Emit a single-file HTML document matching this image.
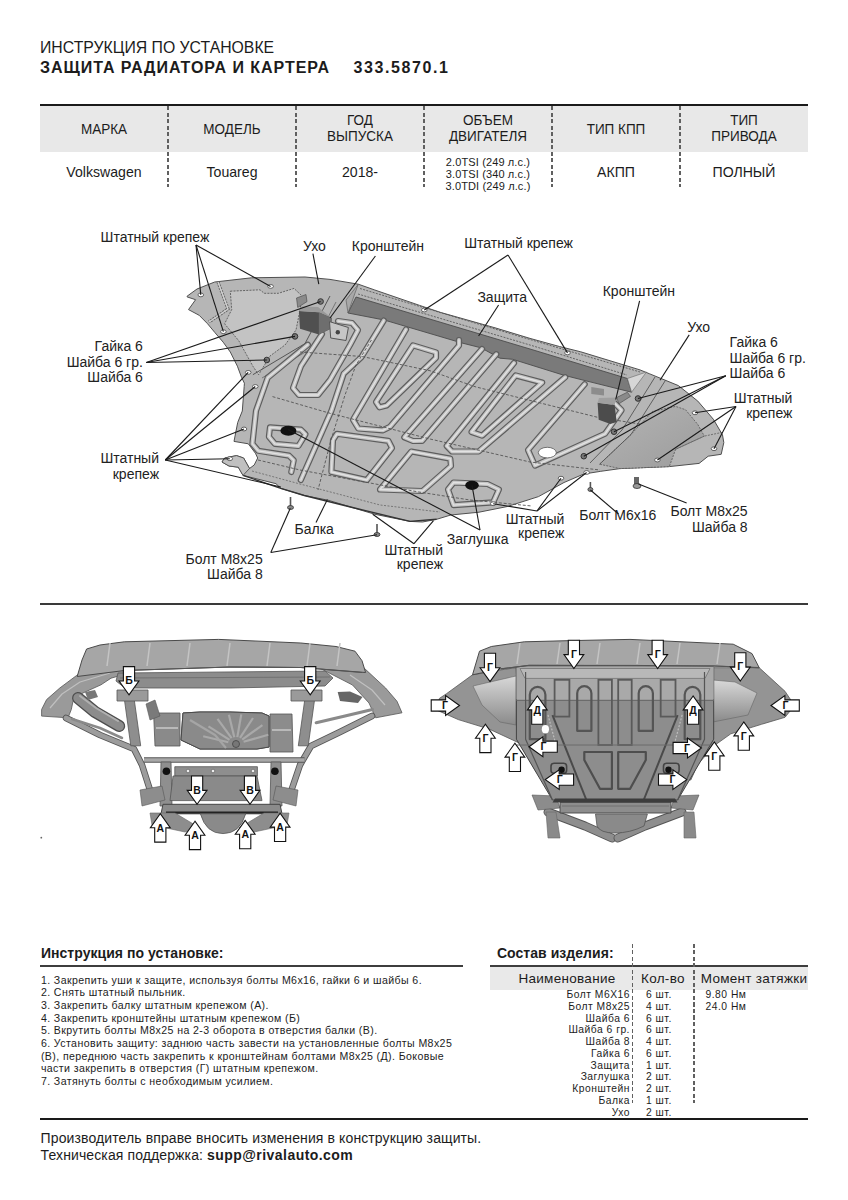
<!DOCTYPE html>
<html><head><meta charset="utf-8"><style>
html,body{margin:0;padding:0;background:#fff;}
body{width:848px;height:1200px;position:relative;overflow:hidden;font-family:"Liberation Sans",sans-serif;}
.t{position:absolute;white-space:nowrap;line-height:1;color:#1c1c1c;}
.r{position:absolute;}
.dv{position:absolute;width:1.8px;background:repeating-linear-gradient(to bottom,#606060 0,#606060 4px,transparent 4px,transparent 6.5px);}
svg{position:absolute;left:0;top:0;}
</style></head><body>
<svg width="848" height="1200" viewBox="0 0 848 1200"><polygon points="187.1,296.2 197.0,289.0 214.7,282.0 251.5,277.8 305.0,277.0 330.0,279.4 358.3,284.2 374.8,290.0 419.6,305.4 440.8,312.5 495.0,327.8 530.0,338.4 559.4,346.5 580.7,351.8 640.0,369.9 649.8,373.9 678.4,385.6 697.8,401.1 713.4,419.3 722.5,434.9 723.8,442.6 721.2,454.3 708.2,456.2 699.1,463.4 669.3,466.6 620.0,468.6 600.8,471.3 583.8,474.0 564.0,482.5 538.5,496.6 507.4,506.5 479.0,512.2 450.8,515.0 436.6,519.3 422.5,522.0 410.0,521.4 375.0,514.3 351.5,507.3 328.0,500.2 304.3,495.5 280.8,488.4 276.0,483.7 243.0,475.4 238.3,467.2 229.0,466.0 222.0,462.0 224.7,458.0 236.5,455.6 243.6,458.0 249.5,468.5 254.2,465.0 257.7,458.0 255.4,453.2 248.3,443.8 234.0,441.4 237.7,422.5 242.3,411.0 244.2,386.4 244.4,383.2 241.6,377.5 237.4,366.2 230.3,352.0 223.2,342.2 214.7,332.3 207.6,323.8 199.2,315.3 188.5,309.6 195.6,299.7 187.1,296.9" fill="#b6b6b6" stroke="#505050" stroke-width="1"/><polygon points="230.3,291.2 260.0,289.8 264.2,293.3 278.4,293.3 294.0,288.4 302.0,296.0 300.0,310.0 296.0,330.0 285.0,345.0 270.0,356.0 258.6,374.7 252.9,366.2 238.8,340.8 224.6,323.8 231.7,309.6" fill="#c3c3c3" stroke="#5a5a5a" stroke-width="0.9" stroke-dasharray="2,1.2"/><polyline points="218,282 228,309 209,322" fill="none" stroke="#666" stroke-width="3.2" stroke-dasharray="2,1"/><polyline points="218,282 228,309 209,322" fill="none" stroke="#d0d0d0" stroke-width="1.4"/><polyline points="330,296 305,343.6 252.9,374.7" fill="none" stroke="#555" stroke-width="1"/><polyline points="336,302 312,348 262,378" fill="none" stroke="#666" stroke-width="0.8"/><defs><linearGradient id="rg" x1="0" y1="0" x2="1" y2="1"><stop offset="0" stop-color="#b4b4b4"/><stop offset="1" stop-color="#9c9c9c"/></linearGradient></defs><polygon points="599.6,464.2 631.0,434.5 652.5,411.4 675.6,406.4 685.5,409.7 697.8,424.5 704.3,436.1 675.6,449.3 669.3,466.6 620.0,468.6" fill="url(#rg)" stroke="#606060" stroke-width="0.9" stroke-dasharray="2,1.2"/><polyline points="665.7,380 631,434.5 599.6,464.2" fill="none" stroke="#555" stroke-width="0.9"/><polyline points="655,377 622,430 590,463" fill="none" stroke="#555" stroke-width="0.9"/><polyline points="675.6,449.3 704.3,436.1 722.5,432.3" fill="none" stroke="#666" stroke-width="0.9" stroke-dasharray="2,1.2"/><polygon points="348.0,313.0 356.0,297.0 530.0,349.0 627.4,378.5 631.6,392.2 589.0,381.6 563.7,375.2 512.7,359.3 500.0,358.2 481.0,347.8 462.0,343.0 384.2,320.0" fill="#7a7a7a" stroke="#4c4c4c" stroke-width="0.9"/><polygon points="627.4,378.5 646.5,372 631.6,392.2" fill="#d6d6d6" stroke="#666" stroke-width="0.6"/><polygon points="348,313 355,293 358.3,284.2 346,300" fill="#a8a8a8" stroke="#555" stroke-width="0.6"/><polyline points="360,288.5 530,339.5 640,372" fill="none" stroke="#5a5a5a" stroke-width="0.9" stroke-dasharray="2,1.3"/><polyline points="358,294 530,345 627,375" fill="none" stroke="#5a5a5a" stroke-width="0.9" stroke-dasharray="2,1.3"/><polyline points="322.0,334.0 301.0,366.0 293.0,388.0 299.0,395.0 318.0,395.0 330.0,380.0 350.0,345.0 358.0,330.0 352.0,323.0 338.0,321.0" fill="none" stroke="#5e5e5e" stroke-width="6.2" stroke-linejoin="round" stroke-linecap="round"/><polyline points="322.0,334.0 301.0,366.0 293.0,388.0 299.0,395.0 318.0,395.0 330.0,380.0 350.0,345.0 358.0,330.0 352.0,323.0 338.0,321.0" fill="none" stroke="#c4c4c4" stroke-width="3.8000000000000003" stroke-linejoin="round" stroke-linecap="round"/><polyline points="322.0,334.0 301.0,366.0 293.0,388.0 299.0,395.0 318.0,395.0 330.0,380.0 350.0,345.0 358.0,330.0 352.0,323.0 338.0,321.0" fill="none" stroke="#e2e2e2" stroke-width="1.3" stroke-linejoin="round" stroke-linecap="round"/><polyline points="307.8,344.7 267.7,377.7 256.0,410.8 252.4,443.8 258.3,450.8 289.0,455.6 293.7,460.3 291.3,472.0" fill="none" stroke="#5e5e5e" stroke-width="6.2" stroke-linejoin="round" stroke-linecap="round"/><polyline points="307.8,344.7 267.7,377.7 256.0,410.8 252.4,443.8 258.3,450.8 289.0,455.6 293.7,460.3 291.3,472.0" fill="none" stroke="#c4c4c4" stroke-width="3.8000000000000003" stroke-linejoin="round" stroke-linecap="round"/><polyline points="307.8,344.7 267.7,377.7 256.0,410.8 252.4,443.8 258.3,450.8 289.0,455.6 293.7,460.3 291.3,472.0" fill="none" stroke="#e2e2e2" stroke-width="1.3" stroke-linejoin="round" stroke-linecap="round"/><polyline points="383.8,320.6 361.4,357.2 343.7,373.7 331.4,410.8 300.8,480.0" fill="none" stroke="#5e5e5e" stroke-width="6.2" stroke-linejoin="round" stroke-linecap="round"/><polyline points="383.8,320.6 361.4,357.2 343.7,373.7 331.4,410.8 300.8,480.0" fill="none" stroke="#c4c4c4" stroke-width="3.8000000000000003" stroke-linejoin="round" stroke-linecap="round"/><polyline points="383.8,320.6 361.4,357.2 343.7,373.7 331.4,410.8 300.8,480.0" fill="none" stroke="#e2e2e2" stroke-width="1.3" stroke-linejoin="round" stroke-linecap="round"/><polyline points="406.0,329.5 353.0,419.7 358.3,428.5 383.0,430.3 390.0,426.7 459.0,345.4 459.0,340.0" fill="none" stroke="#5e5e5e" stroke-width="6.2" stroke-linejoin="round" stroke-linecap="round"/><polyline points="406.0,329.5 353.0,419.7 358.3,428.5 383.0,430.3 390.0,426.7 459.0,345.4 459.0,340.0" fill="none" stroke="#c4c4c4" stroke-width="3.8000000000000003" stroke-linejoin="round" stroke-linecap="round"/><polyline points="406.0,329.5 353.0,419.7 358.3,428.5 383.0,430.3 390.0,426.7 459.0,345.4 459.0,340.0" fill="none" stroke="#e2e2e2" stroke-width="1.3" stroke-linejoin="round" stroke-linecap="round"/><polygon points="413.0,345.4 436.0,352.4 436.0,357.8 386.6,405.5 379.5,407.3 376.0,402.0" fill="none" stroke="#5e5e5e" stroke-width="6.2" stroke-linejoin="round" stroke-linecap="round"/><polygon points="413.0,345.4 436.0,352.4 436.0,357.8 386.6,405.5 379.5,407.3 376.0,402.0" fill="none" stroke="#c4c4c4" stroke-width="3.8000000000000003" stroke-linejoin="round" stroke-linecap="round"/><polygon points="413.0,345.4 436.0,352.4 436.0,357.8 386.6,405.5 379.5,407.3 376.0,402.0" fill="none" stroke="#e2e2e2" stroke-width="1.3" stroke-linejoin="round" stroke-linecap="round"/><polyline points="482.0,349.0 404.3,437.3 413.0,441.0 422.0,440.9 496.3,354.2" fill="none" stroke="#5e5e5e" stroke-width="6.2" stroke-linejoin="round" stroke-linecap="round"/><polyline points="482.0,349.0 404.3,437.3 413.0,441.0 422.0,440.9 496.3,354.2" fill="none" stroke="#c4c4c4" stroke-width="3.8000000000000003" stroke-linejoin="round" stroke-linecap="round"/><polyline points="482.0,349.0 404.3,437.3 413.0,441.0 422.0,440.9 496.3,354.2" fill="none" stroke="#e2e2e2" stroke-width="1.3" stroke-linejoin="round" stroke-linecap="round"/><polyline points="514.0,363.0 446.7,446.0 452.0,451.5 478.6,451.5 565.2,377.2" fill="none" stroke="#5e5e5e" stroke-width="6.2" stroke-linejoin="round" stroke-linecap="round"/><polyline points="514.0,363.0 446.7,446.0 452.0,451.5 478.6,451.5 565.2,377.2" fill="none" stroke="#c4c4c4" stroke-width="3.8000000000000003" stroke-linejoin="round" stroke-linecap="round"/><polyline points="514.0,363.0 446.7,446.0 452.0,451.5 478.6,451.5 565.2,377.2" fill="none" stroke="#e2e2e2" stroke-width="1.3" stroke-linejoin="round" stroke-linecap="round"/><polygon points="515.7,375.4 542.2,382.5 482.1,435.6 471.5,432.0" fill="none" stroke="#5e5e5e" stroke-width="6.2" stroke-linejoin="round" stroke-linecap="round"/><polygon points="515.7,375.4 542.2,382.5 482.1,435.6 471.5,432.0" fill="none" stroke="#c4c4c4" stroke-width="3.8000000000000003" stroke-linejoin="round" stroke-linecap="round"/><polygon points="515.7,375.4 542.2,382.5 482.1,435.6 471.5,432.0" fill="none" stroke="#e2e2e2" stroke-width="1.3" stroke-linejoin="round" stroke-linecap="round"/><polyline points="584.7,384.3 528.0,450.0 535.0,465.6 605.0,433.8 621.6,410.2 614.5,403.0" fill="none" stroke="#5e5e5e" stroke-width="6.2" stroke-linejoin="round" stroke-linecap="round"/><polyline points="584.7,384.3 528.0,450.0 535.0,465.6 605.0,433.8 621.6,410.2 614.5,403.0" fill="none" stroke="#c4c4c4" stroke-width="3.8000000000000003" stroke-linejoin="round" stroke-linecap="round"/><polyline points="584.7,384.3 528.0,450.0 535.0,465.6 605.0,433.8 621.6,410.2 614.5,403.0" fill="none" stroke="#e2e2e2" stroke-width="1.3" stroke-linejoin="round" stroke-linecap="round"/><polygon points="337.0,433.8 388.4,440.9 392.0,448.0 366.8,480.0 331.4,472.0 333.0,440.0" fill="none" stroke="#5e5e5e" stroke-width="6.2" stroke-linejoin="round" stroke-linecap="round"/><polygon points="337.0,433.8 388.4,440.9 392.0,448.0 366.8,480.0 331.4,472.0 333.0,440.0" fill="none" stroke="#c4c4c4" stroke-width="3.8000000000000003" stroke-linejoin="round" stroke-linecap="round"/><polygon points="337.0,433.8 388.4,440.9 392.0,448.0 366.8,480.0 331.4,472.0 333.0,440.0" fill="none" stroke="#e2e2e2" stroke-width="1.3" stroke-linejoin="round" stroke-linecap="round"/><polygon points="411.4,451.5 450.3,458.6 451.0,466.0 422.5,491.0 380.0,489.5" fill="none" stroke="#5e5e5e" stroke-width="6.2" stroke-linejoin="round" stroke-linecap="round"/><polygon points="411.4,451.5 450.3,458.6 451.0,466.0 422.5,491.0 380.0,489.5" fill="none" stroke="#c4c4c4" stroke-width="3.8000000000000003" stroke-linejoin="round" stroke-linecap="round"/><polygon points="411.4,451.5 450.3,458.6 451.0,466.0 422.5,491.0 380.0,489.5" fill="none" stroke="#e2e2e2" stroke-width="1.3" stroke-linejoin="round" stroke-linecap="round"/><polygon points="270.0,427.3 300.8,429.6 305.5,434.3 298.4,446.0 274.8,443.8 268.9,436.7" fill="none" stroke="#5e5e5e" stroke-width="6.2" stroke-linejoin="round" stroke-linecap="round"/><polygon points="270.0,427.3 300.8,429.6 305.5,434.3 298.4,446.0 274.8,443.8 268.9,436.7" fill="none" stroke="#c4c4c4" stroke-width="3.8000000000000003" stroke-linejoin="round" stroke-linecap="round"/><polygon points="270.0,427.3 300.8,429.6 305.5,434.3 298.4,446.0 274.8,443.8 268.9,436.7" fill="none" stroke="#e2e2e2" stroke-width="1.3" stroke-linejoin="round" stroke-linecap="round"/><polygon points="448.0,489.5 453.6,482.5 487.6,484.0 498.9,489.5 493.2,502.3 453.6,505.1" fill="none" stroke="#5e5e5e" stroke-width="6.2" stroke-linejoin="round" stroke-linecap="round"/><polygon points="448.0,489.5 453.6,482.5 487.6,484.0 498.9,489.5 493.2,502.3 453.6,505.1" fill="none" stroke="#c4c4c4" stroke-width="3.8000000000000003" stroke-linejoin="round" stroke-linecap="round"/><polygon points="448.0,489.5 453.6,482.5 487.6,484.0 498.9,489.5 493.2,502.3 453.6,505.1" fill="none" stroke="#e2e2e2" stroke-width="1.3" stroke-linejoin="round" stroke-linecap="round"/><polyline points="272.5,396.6 329,413 430,439 530,462 600,470" fill="none" stroke="#555" stroke-width="0.9" stroke-dasharray="3,1.8"/><polyline points="300,352 362,356.5 430,370.7 475,386.7 598,417.4 640,424" fill="none" stroke="#555" stroke-width="0.9" stroke-dasharray="3,1.8"/><polyline points="258,460 300,470 418.7,492 470,500 531.9,506" fill="none" stroke="#555" stroke-width="0.9" stroke-dasharray="3,1.8"/><polyline points="371.5,340 356,365 345,395 331,440 318,490" fill="none" stroke="#555" stroke-width="0.9" stroke-dasharray="3,1.8"/><polyline points="243,475.4 280.8,488.4 304.3,495.5 351.5,507.3 410,521.4 436.6,519.3" fill="none" stroke="#333" stroke-width="1.4"/><polyline points="252,471 300,484 380,505 440,512" fill="none" stroke="#666" stroke-width="0.8" stroke-dasharray="2,1.5"/><polygon points="224.7,458 236.5,455.6 243.6,458 249.5,468.5 243,475.4 238.3,467.2 229,466 222,462" fill="#c0c0c0" stroke="#444" stroke-width="0.8"/><polygon points="298.9,311 318.9,312.2 331.9,318 330.7,328.7 318.9,334.6 300,328.7" fill="#505050"/><polygon points="298.9,311 302,306.5 318,307 331.9,318 318.9,312.2" fill="#9a9a9a"/><polygon points="318.9,312.2 331.9,318 330.7,328.7 318.9,334.6" fill="#6e6e6e"/><polygon points="296.5,298 306,294.5 307,301.6 297.7,307.5" fill="#8a8a8a" stroke="#444" stroke-width="0.6"/><polygon points="597.6,402.8 614.6,405 616.7,421.9 610.4,424 598.7,419.8" fill="#4c4c4c"/><polygon points="599,398 616.7,397.5 614.6,405 597.6,402.8" fill="#a0a0a0"/><polygon points="616.7,397.5 627.4,392.2 630.5,396.4 618.9,403.8" fill="#8a8a8a" stroke="#444" stroke-width="0.6"/><polygon points="591.3,387 604,389 604,395.4 591.3,394" fill="#8c8c8c"/><polygon points="329.5,321.6 348.4,327.5 346,340.5 330.7,338" fill="#c6c6c6" stroke="#555" stroke-width="1"/><circle cx="337.8" cy="332.2" r="2.2" fill="#444"/><ellipse cx="288.4" cy="430.8" rx="8" ry="5" fill="#111"/><ellipse cx="472" cy="485.3" rx="6.8" ry="4.6" fill="#111"/><ellipse cx="547.3" cy="452.6" rx="9" ry="5.3" fill="#fff" stroke="#555" stroke-width="0.8"/><ellipse cx="200.8" cy="294.9" rx="2.8" ry="1.9" fill="#fff" stroke="#444" stroke-width="0.8"/><ellipse cx="223.4" cy="331.7" rx="2.8" ry="1.9" fill="#fff" stroke="#444" stroke-width="0.8"/><ellipse cx="270.6" cy="286.4" rx="2.8" ry="1.9" fill="#fff" stroke="#444" stroke-width="0.8"/><ellipse cx="424.3" cy="310" rx="2.8" ry="1.9" fill="#fff" stroke="#444" stroke-width="0.8"/><ellipse cx="567.5" cy="352.9" rx="2.8" ry="1.9" fill="#fff" stroke="#444" stroke-width="0.8"/><ellipse cx="695" cy="412.8" rx="2.8" ry="1.9" fill="#fff" stroke="#444" stroke-width="0.8"/><ellipse cx="714" cy="448.7" rx="2.8" ry="1.9" fill="#fff" stroke="#444" stroke-width="0.8"/><ellipse cx="657.4" cy="460" rx="2.8" ry="1.9" fill="#fff" stroke="#444" stroke-width="0.8"/><ellipse cx="248.2" cy="372.4" rx="2.8" ry="1.9" fill="#fff" stroke="#444" stroke-width="0.8"/><ellipse cx="255.3" cy="386.5" rx="2.8" ry="1.9" fill="#fff" stroke="#444" stroke-width="0.8"/><ellipse cx="244" cy="429" rx="2.8" ry="1.9" fill="#fff" stroke="#444" stroke-width="0.8"/><ellipse cx="229.8" cy="458.7" rx="2.8" ry="1.9" fill="#fff" stroke="#444" stroke-width="0.8"/><ellipse cx="561" cy="478.2" rx="2.8" ry="1.9" fill="#fff" stroke="#444" stroke-width="0.8"/><ellipse cx="586.6" cy="472.5" rx="2.8" ry="1.9" fill="#fff" stroke="#444" stroke-width="0.8"/><ellipse cx="493.2" cy="503.7" rx="2.8" ry="1.9" fill="#fff" stroke="#444" stroke-width="0.8"/><circle cx="266.8" cy="360" r="2.8" fill="#777" stroke="#333" stroke-width="1"/><circle cx="295" cy="336.4" r="2.8" fill="#777" stroke="#333" stroke-width="1"/><circle cx="320.6" cy="301.5" r="2.8" fill="#777" stroke="#333" stroke-width="1"/><circle cx="638" cy="398.5" r="2.8" fill="#777" stroke="#333" stroke-width="1"/><circle cx="614" cy="431.7" r="2.8" fill="#777" stroke="#333" stroke-width="1"/><circle cx="583.8" cy="456.2" r="2.8" fill="#777" stroke="#333" stroke-width="1"/><rect x="289.7" y="497" width="1.6" height="10" fill="#555"/><ellipse cx="290.5" cy="507.5" rx="3" ry="2" fill="#888" stroke="#333" stroke-width="0.8"/><rect x="376.2" y="524" width="1.6" height="10" fill="#555"/><ellipse cx="377" cy="534.5" rx="3" ry="2" fill="#888" stroke="#333" stroke-width="0.8"/><rect x="589.6" y="482" width="1.6" height="7" fill="#555"/><ellipse cx="590.4" cy="489.5" rx="2.5" ry="2" fill="#888" stroke="#333" stroke-width="0.8"/><rect x="634" y="477" width="5" height="9" fill="#666"/><ellipse cx="637" cy="486" rx="4" ry="2.5" fill="#999" stroke="#333" stroke-width="0.8"/><line x1="196" y1="245" x2="200.8" y2="294.9" stroke="#1a1a1a" stroke-width="1.1"/><line x1="196" y1="245" x2="223.4" y2="331.7" stroke="#1a1a1a" stroke-width="1.1"/><line x1="196" y1="245" x2="270.6" y2="286.4" stroke="#1a1a1a" stroke-width="1.1"/><line x1="312.9" y1="253.6" x2="318.8" y2="284.2" stroke="#1a1a1a" stroke-width="1.1"/><line x1="375.4" y1="256" x2="330" y2="318" stroke="#1a1a1a" stroke-width="1.1"/><line x1="508" y1="255" x2="424.3" y2="310" stroke="#1a1a1a" stroke-width="1.1"/><line x1="508" y1="255" x2="567.5" y2="352.9" stroke="#1a1a1a" stroke-width="1.1"/><line x1="498.6" y1="305" x2="478.6" y2="336" stroke="#1a1a1a" stroke-width="1.1"/><line x1="639.6" y1="300.8" x2="615.7" y2="399.6" stroke="#1a1a1a" stroke-width="1.1"/><line x1="689.2" y1="334.9" x2="660" y2="380.2" stroke="#1a1a1a" stroke-width="1.1"/><line x1="725.8" y1="375.8" x2="638" y2="398.5" stroke="#1a1a1a" stroke-width="1.1"/><line x1="725.8" y1="375.8" x2="614" y2="431.7" stroke="#1a1a1a" stroke-width="1.1"/><line x1="725.8" y1="375.8" x2="583.8" y2="456.2" stroke="#1a1a1a" stroke-width="1.1"/><line x1="736" y1="406.5" x2="695" y2="412.8" stroke="#1a1a1a" stroke-width="1.1"/><line x1="736" y1="406.5" x2="714" y2="448.7" stroke="#1a1a1a" stroke-width="1.1"/><line x1="736" y1="406.5" x2="657.4" y2="460" stroke="#1a1a1a" stroke-width="1.1"/><line x1="146.3" y1="362.5" x2="266.8" y2="360" stroke="#1a1a1a" stroke-width="1.1"/><line x1="146.3" y1="362.5" x2="295" y2="336.4" stroke="#1a1a1a" stroke-width="1.1"/><line x1="146.3" y1="362.5" x2="320.6" y2="301.5" stroke="#1a1a1a" stroke-width="1.1"/><line x1="165.3" y1="460" x2="248.2" y2="372.4" stroke="#1a1a1a" stroke-width="1.1"/><line x1="165.3" y1="460" x2="255.3" y2="386.5" stroke="#1a1a1a" stroke-width="1.1"/><line x1="165.3" y1="460" x2="244" y2="429" stroke="#1a1a1a" stroke-width="1.1"/><line x1="165.3" y1="460" x2="229.8" y2="458.7" stroke="#1a1a1a" stroke-width="1.1"/><line x1="165.3" y1="460" x2="280.8" y2="487" stroke="#1a1a1a" stroke-width="1.1"/><line x1="316" y1="522.4" x2="327.4" y2="499.5" stroke="#1a1a1a" stroke-width="1.1"/><line x1="270.8" y1="552.5" x2="290.3" y2="508.3" stroke="#1a1a1a" stroke-width="1.1"/><line x1="270.8" y1="552.5" x2="377" y2="534.8" stroke="#1a1a1a" stroke-width="1.1"/><line x1="414" y1="543.7" x2="372.7" y2="514.3" stroke="#1a1a1a" stroke-width="1.1"/><line x1="414" y1="543.7" x2="433.5" y2="520.7" stroke="#1a1a1a" stroke-width="1.1"/><line x1="480" y1="530" x2="472" y2="485.3" stroke="#1a1a1a" stroke-width="1.1"/><line x1="480" y1="530" x2="288" y2="429.5" stroke="#1a1a1a" stroke-width="1.1"/><line x1="537" y1="511" x2="561" y2="478.2" stroke="#1a1a1a" stroke-width="1.1"/><line x1="537" y1="511" x2="586.6" y2="472.5" stroke="#1a1a1a" stroke-width="1.1"/><line x1="537" y1="511" x2="493.2" y2="503.7" stroke="#1a1a1a" stroke-width="1.1"/><line x1="618.5" y1="514" x2="590.4" y2="490" stroke="#1a1a1a" stroke-width="1.1"/><line x1="686.6" y1="502.9" x2="638.5" y2="484" stroke="#1a1a1a" stroke-width="1.1"/></svg><svg width="848" height="1200" viewBox="0 0 848 1200"><polygon points="134.0,671.6 111.0,678.2 101.0,684.8 82.9,693.0 73.0,701.3 71.3,709.5 68.0,717.8 41.6,716.1 41.6,709.5 46.6,699.6 59.8,688.0 76.3,675.7 86.0,668.0" fill="#9a9a9a" stroke="#555" stroke-width="0.8" /><polyline points="50.0,708.0 62.0,694.0 80.0,682.0 110.0,673.0" fill="none" stroke="#c0c0c0" stroke-width="1.2" stroke-linejoin="round" /><polygon points="319.5,668.0 352.5,685.0 369.0,703.0 375.7,717.8 402.0,712.8 397.0,701.3 385.6,688.0 362.5,666.6" fill="#9a9a9a" stroke="#555" stroke-width="0.8" /><polyline points="385.0,705.0 372.0,690.0 350.0,675.0" fill="none" stroke="#c0c0c0" stroke-width="1.2" stroke-linejoin="round" /><polyline points="66.0,718.0 100.0,735.0 134.0,749.0 142.0,765.0 150.0,790.0" fill="none" stroke="#555" stroke-width="6.5" stroke-linejoin="round" stroke-linecap="round"/><polyline points="66.0,718.0 100.0,735.0 134.0,749.0 142.0,765.0 150.0,790.0" fill="none" stroke="#9c9c9c" stroke-width="4.8" stroke-linejoin="round" stroke-linecap="round"/><polyline points="372.0,716.0 340.0,732.0 311.0,746.0 300.0,765.0 291.5,790.0" fill="none" stroke="#555" stroke-width="6.5" stroke-linejoin="round" stroke-linecap="round"/><polyline points="372.0,716.0 340.0,732.0 311.0,746.0 300.0,765.0 291.5,790.0" fill="none" stroke="#9c9c9c" stroke-width="4.8" stroke-linejoin="round" stroke-linecap="round"/><polyline points="372.4,709.5 345.0,716.0 316.2,722.7" fill="none" stroke="#8a8a8a" stroke-width="3.2" stroke-linejoin="round" stroke-linecap="round"/><polyline points="72.0,719.0 100.0,728.0 122.0,738.0" fill="none" stroke="#8a8a8a" stroke-width="2.5" stroke-linejoin="round" stroke-linecap="round"/><polygon points="118.0,673.0 325.0,671.0 333.0,678.0 325.0,686.0 230.0,688.0 125.0,688.0 116.0,681.0" fill="#8c8c8c" stroke="#555" stroke-width="0.8" /><polyline points="120.0,678.0 330.0,677.0" fill="none" stroke="#6a6a6a" stroke-width="0.8" stroke-linejoin="round" /><polygon points="86.6,649.0 100.0,645.0 124.3,641.8 218.7,639.4 300.8,643.0 336.0,646.5 355.0,651.2 362.0,660.7 365.6,672.5 300.8,667.5 230.0,667.0 124.3,670.5 77.2,676.5 82.0,660.0" fill="#a6a6a6" stroke="#4a4a4a" stroke-width="1" /><polyline points="110.0,643.0 107.0,666.0" fill="none" stroke="#c4c4c4" stroke-width="1.5" stroke-linejoin="round" /><polyline points="150.0,643.0 147.0,666.0" fill="none" stroke="#c4c4c4" stroke-width="1.5" stroke-linejoin="round" /><polyline points="190.0,643.0 187.0,666.0" fill="none" stroke="#c4c4c4" stroke-width="1.5" stroke-linejoin="round" /><polyline points="230.0,643.0 227.0,666.0" fill="none" stroke="#c4c4c4" stroke-width="1.5" stroke-linejoin="round" /><polyline points="270.0,643.0 267.0,666.0" fill="none" stroke="#c4c4c4" stroke-width="1.5" stroke-linejoin="round" /><polyline points="310.0,643.0 307.0,666.0" fill="none" stroke="#c4c4c4" stroke-width="1.5" stroke-linejoin="round" /><polyline points="340.0,643.0 337.0,666.0" fill="none" stroke="#c4c4c4" stroke-width="1.5" stroke-linejoin="round" /><polyline points="124.3,670.5 230.0,667.0 300.8,667.5 362.0,672.5" fill="none" stroke="#555" stroke-width="1.2" stroke-linejoin="round" /><polyline points="78.0,698.0 95.0,712.0 119.2,726.0" fill="none" stroke="#4e4e4e" stroke-width="12" stroke-linejoin="round" stroke-linecap="round"/><polyline points="78.0,698.0 95.0,712.0 119.2,726.0" fill="none" stroke="#8c8c8c" stroke-width="9.5" stroke-linejoin="round" stroke-linecap="round"/><polyline points="80.0,696.0 96.0,708.0 118.0,721.0" fill="none" stroke="#b0b0b0" stroke-width="2" stroke-linejoin="round" stroke-linecap="round"/><polygon points="124.2,698.0 134.0,698.0 140.7,745.8 130.8,745.8" fill="#8e8e8e" stroke="#555" stroke-width="0.8" /><polygon points="314.8,698.0 305.0,698.0 298.3,745.8 308.2,745.8" fill="#8e8e8e" stroke="#555" stroke-width="0.8" /><polygon points="117.0,690.0 148.0,690.0 148.0,701.0 117.0,701.0" fill="#9a9a9a" stroke="#555" stroke-width="0.8" /><polygon points="322.0,690.0 291.0,690.0 291.0,701.0 322.0,701.0" fill="#9a9a9a" stroke="#555" stroke-width="0.8" /><polygon points="153.6,713.0 180.0,713.0 180.0,746.0 155.0,746.0" fill="#8a8a8a" stroke="#555" stroke-width="0.8" /><polyline points="156.0,728.0 178.0,728.0" fill="none" stroke="#c8c8c8" stroke-width="1.5" stroke-linejoin="round" /><polygon points="146.0,704.0 155.0,700.0 160.0,716.0 150.0,720.0" fill="#7a7a7a" stroke="#555" stroke-width="0.6" /><polygon points="270.0,714.0 292.0,714.0 293.0,752.0 270.0,752.0" fill="#8c8c8c" stroke="#555" stroke-width="0.8" /><polyline points="272.0,730.0 291.0,730.0" fill="none" stroke="#c8c8c8" stroke-width="1.5" stroke-linejoin="round" /><polygon points="183.0,713.0 200.0,712.0 230.0,712.0 262.0,713.0 269.0,716.0 269.0,747.0 257.0,749.0 200.0,749.0 181.0,740.0" fill="#838383" stroke="#4a4a4a" stroke-width="1" /><polygon points="183.0,713.0 200.0,712.0 230.0,712.0 262.0,713.0 269.0,716.0 269.0,747.0 257.0,749.0 200.0,749.0 181.0,740.0" fill="#8a8a8a" stroke="#4a4a4a" stroke-width="1" /><polyline points="228.3,742.2 203.2,736.2" fill="none" stroke="#a9a9a9" stroke-width="2.2" stroke-linejoin="round" /><polyline points="229.5,739.9 208.5,726.4" fill="none" stroke="#a9a9a9" stroke-width="2.2" stroke-linejoin="round" /><polyline points="231.6,738.1 217.5,718.8" fill="none" stroke="#a9a9a9" stroke-width="2.2" stroke-linejoin="round" /><polyline points="234.3,737.2 228.9,714.7" fill="none" stroke="#a9a9a9" stroke-width="2.2" stroke-linejoin="round" /><polyline points="237.3,737.1 241.3,714.4" fill="none" stroke="#a9a9a9" stroke-width="2.2" stroke-linejoin="round" /><polyline points="240.0,737.9 253.0,718.0" fill="none" stroke="#a9a9a9" stroke-width="2.2" stroke-linejoin="round" /><polyline points="242.2,739.6 262.4,725.1" fill="none" stroke="#a9a9a9" stroke-width="2.2" stroke-linejoin="round" /><polyline points="243.6,741.8 268.3,734.7" fill="none" stroke="#a9a9a9" stroke-width="2.2" stroke-linejoin="round" /><polyline points="190.0,720.0 215.0,735.0 226.0,748.0" fill="none" stroke="#a5a5a5" stroke-width="2.2" stroke-linejoin="round" /><circle cx="236" cy="744" r="3.5" fill="#777" stroke="#444" stroke-width="0.8"/><polyline points="144.0,760.0 304.5,760.0" fill="none" stroke="#555" stroke-width="5.5" stroke-linejoin="round" /><polyline points="144.0,760.0 304.5,760.0" fill="none" stroke="#a8a8a8" stroke-width="3.6" stroke-linejoin="round" /><polygon points="161.0,762.0 171.0,762.0 172.0,806.0 160.0,806.0" fill="#8f8f8f" stroke="#555" stroke-width="0.8" /><polygon points="271.0,762.0 281.0,762.0 282.0,806.0 270.0,806.0" fill="#8f8f8f" stroke="#555" stroke-width="0.8" /><polygon points="174.8,766.7 257.4,766.7 257.4,776.0 174.8,776.0" fill="#8e8e8e" stroke="#555" stroke-width="0.8" /><circle cx="188" cy="771" r="1.8" fill="#eee" stroke="#555" stroke-width="0.6"/><circle cx="213" cy="771" r="1.8" fill="#eee" stroke="#555" stroke-width="0.6"/><circle cx="253" cy="771" r="1.8" fill="#eee" stroke="#555" stroke-width="0.6"/><circle cx="166.4" cy="771.3" r="3.8" fill="#111"/><circle cx="274.9" cy="771.3" r="3.8" fill="#111"/><polygon points="173.0,776.0 257.0,776.0 262.0,800.6 170.0,800.6" fill="#8a8a8a" stroke="#555" stroke-width="0.8" /><polygon points="140.0,790.0 162.0,786.0 165.0,800.0 142.0,806.0" fill="#8d8d8d" stroke="#555" stroke-width="0.6" /><polygon points="298.0,790.0 276.0,786.0 273.0,800.0 296.0,806.0" fill="#8d8d8d" stroke="#555" stroke-width="0.6" /><polygon points="163.0,804.3 280.0,804.3 282.0,813.8 161.0,813.8" fill="#8b8b8b" stroke="#444" stroke-width="1" /><polyline points="166.0,812.5 278.0,812.5" fill="none" stroke="#222" stroke-width="2" stroke-linejoin="round" /><path d="M200.4,813.8 L245.7,813.8 Q240,833.6 223,833.6 Q206,833.6 200.4,813.8 Z" fill="#8a8a8a" stroke="#555" stroke-width="0.8"/><polygon points="150.0,813.0 175.0,813.0 200.0,828.0 185.0,832.0 152.0,825.0" fill="#8d8d8d" stroke="#666" stroke-width="0.6" /><polygon points="289.0,813.0 264.0,813.0 239.0,828.0 254.0,832.0 287.0,825.0" fill="#8d8d8d" stroke="#666" stroke-width="0.6" /><polygon points="337.7,692.0 350.0,691.4 362.5,697.0 358.0,703.0 340.0,701.0" fill="#666" stroke="none" stroke-width="0.8" /><polygon points="85.0,692.0 95.0,690.0 98.0,697.0 88.0,700.0" fill="#777" stroke="none" stroke-width="0.8" /><polygon points="129.0,694.9 138.9,681.0 134.6,681.0 134.6,666.6 123.4,666.6 123.4,681.0 119.1,681.0" fill="#fff" stroke="#111" stroke-width="1.1" stroke-linejoin="miter"/><text x="129.0" y="684.1" font-family="Liberation Sans" font-weight="bold" font-size="10.5" text-anchor="middle" fill="#111">Б</text><polygon points="310.2,694.9 320.1,681.0 315.8,681.0 315.8,666.6 304.6,666.6 304.6,681.0 300.3,681.0" fill="#fff" stroke="#111" stroke-width="1.1" stroke-linejoin="miter"/><text x="310.2" y="684.1" font-family="Liberation Sans" font-weight="bold" font-size="10.5" text-anchor="middle" fill="#111">Б</text><polygon points="197.1,804.3 207.0,790.4 202.7,790.4 202.7,776.0 191.5,776.0 191.5,790.4 187.2,790.4" fill="#fff" stroke="#111" stroke-width="1.1" stroke-linejoin="miter"/><text x="197.1" y="793.5" font-family="Liberation Sans" font-weight="bold" font-size="10.5" text-anchor="middle" fill="#111">В</text><polygon points="250.0,804.3 259.9,790.4 255.6,790.4 255.6,776.0 244.4,776.0 244.4,790.4 240.1,790.4" fill="#fff" stroke="#111" stroke-width="1.1" stroke-linejoin="miter"/><text x="250.0" y="793.5" font-family="Liberation Sans" font-weight="bold" font-size="10.5" text-anchor="middle" fill="#111">В</text><polygon points="160.3,813.8 150.4,827.7 154.7,827.7 154.7,842.1 165.9,842.1 165.9,827.7 170.2,827.7" fill="#fff" stroke="#111" stroke-width="1.1" stroke-linejoin="miter"/><text x="160.3" y="831.8" font-family="Liberation Sans" font-weight="bold" font-size="10.5" text-anchor="middle" fill="#111">А</text><polygon points="195.0,821.3 185.1,835.2 189.4,835.2 189.4,849.6 200.6,849.6 200.6,835.2 204.9,835.2" fill="#fff" stroke="#111" stroke-width="1.1" stroke-linejoin="miter"/><text x="195.0" y="839.3" font-family="Liberation Sans" font-weight="bold" font-size="10.5" text-anchor="middle" fill="#111">А</text><polygon points="245.2,820.4 235.3,834.3 239.6,834.3 239.6,848.7 250.8,848.7 250.8,834.3 255.1,834.3" fill="#fff" stroke="#111" stroke-width="1.1" stroke-linejoin="miter"/><text x="245.2" y="838.4" font-family="Liberation Sans" font-weight="bold" font-size="10.5" text-anchor="middle" fill="#111">А</text><polygon points="280.1,813.2 270.2,827.1 274.5,827.1 274.5,841.5 285.7,841.5 285.7,827.1 290.0,827.1" fill="#fff" stroke="#111" stroke-width="1.1" stroke-linejoin="miter"/><text x="280.1" y="831.2" font-family="Liberation Sans" font-weight="bold" font-size="10.5" text-anchor="middle" fill="#111">А</text><circle cx="41.3" cy="837.7" r="0.9" fill="#666"/></svg><svg width="848" height="1200" viewBox="0 0 848 1200"><polyline points="548.0,812.0 585.0,826.0 612.0,838.0" fill="none" stroke="#555" stroke-width="9" stroke-linejoin="round" stroke-linecap="round"/><polyline points="548.0,812.0 585.0,826.0 612.0,838.0" fill="none" stroke="#8e8e8e" stroke-width="7" stroke-linejoin="round" stroke-linecap="round"/><polyline points="682.0,812.0 645.0,826.0 618.0,838.0" fill="none" stroke="#555" stroke-width="9" stroke-linejoin="round" stroke-linecap="round"/><polyline points="682.0,812.0 645.0,826.0 618.0,838.0" fill="none" stroke="#8e8e8e" stroke-width="7" stroke-linejoin="round" stroke-linecap="round"/><path d="M595.5,814 L647.4,814 L644,826 Q630,833 615,833 Q600,833 597,826 Z" fill="#8a8a8a" stroke="#555" stroke-width="0.8"/><polygon points="546.0,812.0 556.0,812.0 560.0,838.0 548.0,838.0" fill="#8a8a8a" stroke="#666" stroke-width="0.6" /><polygon points="684.0,812.0 694.0,812.0 696.0,838.0 684.0,838.0" fill="#8a8a8a" stroke="#666" stroke-width="0.6" /><polygon points="532.0,795.0 556.0,796.0 560.0,808.0 538.0,810.0" fill="#8c8c8c" stroke="#555" stroke-width="0.6" /><polygon points="699.0,795.0 675.0,796.0 671.0,808.0 693.0,810.0" fill="#8c8c8c" stroke="#555" stroke-width="0.6" /><polygon points="560.0,802.4 671.0,802.4 671.0,813.0 560.0,813.0" fill="#8d8d8d" stroke="#444" stroke-width="0.9" /><polyline points="562.0,806.0 669.0,806.0" fill="none" stroke="#6a6a6a" stroke-width="0.8" stroke-linejoin="round" /><polygon points="472.5,674.8 446.5,693.7 439.4,698.4 437.0,710.2 458.3,719.6 489.0,729.0 519.6,743.2 536.0,771.5 543.2,780.0 556.0,780.0 545.0,752.0 519.6,735.0 516.0,667.7 500.0,670.0" fill="#949494" stroke="#555" stroke-width="0.8" /><polygon points="713.2,667.7 759.2,667.7 785.0,691.3 794.5,705.5 785.0,717.3 761.5,724.3 730.8,733.8 714.3,745.6 697.8,764.4 690.8,780.0 678.0,780.0 690.0,752.0 713.2,735.0" fill="#949494" stroke="#555" stroke-width="0.8" /><defs><linearGradient id="wg" x1="0" y1="0" x2="0" y2="1"><stop offset="0" stop-color="#d8d8d8"/><stop offset="1" stop-color="#8a8a8a"/></linearGradient></defs><polygon points="473.0,686.0 490.0,682.0 516.0,676.0 516.0,725.0 500.0,722.0 482.0,705.0" fill="url(#wg)" stroke="#666" stroke-width="0.6" /><polygon points="713.0,680.0 735.0,682.0 757.0,693.0 748.0,715.0 713.0,722.0" fill="url(#wg)" stroke="#666" stroke-width="0.6" /><polygon points="516.4,667.0 713.7,667.0 713.7,739.2 677.6,800.0 552.5,800.0 516.4,739.2" fill="#8d8d8d" stroke="#444" stroke-width="1" /><polygon points="516.4,667.0 713.7,667.0 713.7,699.6 516.4,699.6" fill="#a9a9a9" stroke="none" stroke-width="0.8" /><polyline points="516.4,700.5 713.7,700.5" fill="none" stroke="#6c6c6c" stroke-width="1" stroke-linejoin="round" /><polygon points="520.0,668.5 710.0,668.5 705.0,678.4 525.0,678.4" fill="#b8b8b8" stroke="#6a6a6a" stroke-width="0.7" /><polyline points="525.6,672.0 525.6,739.2 552.5,800.0" fill="none" stroke="#555" stroke-width="1.2" stroke-linejoin="round" /><polyline points="704.5,672.0 704.5,739.2 677.6,800.0" fill="none" stroke="#555" stroke-width="1.2" stroke-linejoin="round" /><polyline points="552.5,715.2 586.4,800.0" fill="none" stroke="#4a4a4a" stroke-width="2" stroke-linejoin="round" /><polyline points="677.6,715.2 643.7,800.0" fill="none" stroke="#4a4a4a" stroke-width="2" stroke-linejoin="round" /><polyline points="548.0,715.0 556.0,745.0" fill="none" stroke="#bdbdbd" stroke-width="1.2" stroke-linejoin="round" stroke-dasharray="2,1.5"/><polyline points="682.1,715.0 674.1,745.0" fill="none" stroke="#bdbdbd" stroke-width="1.2" stroke-linejoin="round" stroke-dasharray="2,1.5"/><path d="M529.8,739.2 L529.8,694.7 A7.800000000000011,7.800000000000011 0 0 1 545.4,694.7 L545.4,739.2 Z" fill="none" stroke="#555" stroke-width="2.2" stroke-linejoin="round"/><path d="M684.6999999999999,739.2 L684.6999999999999,694.7 A7.800000000000011,7.800000000000011 0 0 1 700.3,694.7 L700.3,739.2 Z" fill="none" stroke="#555" stroke-width="2.2" stroke-linejoin="round"/><path d="M577.2,730.8 L577.2,693.3 A7.099999999999966,7.099999999999966 0 0 1 591.4,693.3 L591.4,730.8 Z" fill="none" stroke="#555" stroke-width="2.2" stroke-linejoin="round"/><path d="M638.6999999999999,730.8 L638.6999999999999,693.3 A7.099999999999966,7.099999999999966 0 0 1 652.8999999999999,693.3 L652.8999999999999,730.8 Z" fill="none" stroke="#555" stroke-width="2.2" stroke-linejoin="round"/><rect x="554.6" y="679.8" width="14.799999999999955" height="36.80000000000007" fill="none" stroke="#5a5a5a" stroke-width="1.8"/><rect x="660.6999999999999" y="679.8" width="14.799999999999955" height="36.80000000000007" fill="none" stroke="#5a5a5a" stroke-width="1.8"/><rect x="598.4" y="679.8" width="13.5" height="65.20000000000005" fill="none" stroke="#5a5a5a" stroke-width="1.8"/><rect x="618.1999999999999" y="679.8" width="13.5" height="65.20000000000005" fill="none" stroke="#5a5a5a" stroke-width="1.8"/><polyline points="516.4,745.0 713.7,745.0" fill="none" stroke="#6a6a6a" stroke-width="1" stroke-linejoin="round" /><polygon points="584.3,752.0 611.9,752.0 611.9,788.8 600.0,788.8 584.3,760.0" fill="none" stroke="#4e4e4e" stroke-width="2.2" stroke-linejoin="round"/><polygon points="645.8,752.0 618.2,752.0 618.2,788.8 630.1,788.8 645.8,760.0" fill="none" stroke="#4e4e4e" stroke-width="2.2" stroke-linejoin="round"/><rect x="551" y="763.3" width="15.6" height="10" rx="3" fill="none" stroke="#444" stroke-width="1.6"/><circle cx="561.6" cy="769.7" r="3.2" fill="#111"/><rect x="663.4999999999999" y="763.3" width="15.6" height="10" rx="3" fill="none" stroke="#444" stroke-width="1.6"/><circle cx="668.4999999999999" cy="769.7" r="3.2" fill="#111"/><ellipse cx="545.4" cy="729.3" rx="3.6" ry="4.2" fill="#fff"/><polygon points="555.0,798.5 675.0,798.5 677.6,802.4 552.5,802.4" fill="#3c3c3c" stroke="none" stroke-width="0.8" /><polygon points="479.5,651.2 491.3,646.5 524.3,641.8 571.5,640.6 630.0,639.4 733.2,644.2 752.0,653.6 759.2,667.7 713.0,666.0 630.0,665.4 529.0,665.4 500.8,668.9 472.5,674.8" fill="#a6a6a6" stroke="#4a4a4a" stroke-width="1" /><polyline points="520.0,643.0 517.0,664.0" fill="none" stroke="#c4c4c4" stroke-width="1.5" stroke-linejoin="round" /><polyline points="560.0,643.0 557.0,664.0" fill="none" stroke="#c4c4c4" stroke-width="1.5" stroke-linejoin="round" /><polyline points="600.0,643.0 597.0,664.0" fill="none" stroke="#c4c4c4" stroke-width="1.5" stroke-linejoin="round" /><polyline points="640.0,643.0 637.0,664.0" fill="none" stroke="#c4c4c4" stroke-width="1.5" stroke-linejoin="round" /><polyline points="680.0,643.0 677.0,664.0" fill="none" stroke="#c4c4c4" stroke-width="1.5" stroke-linejoin="round" /><polyline points="720.0,643.0 717.0,664.0" fill="none" stroke="#c4c4c4" stroke-width="1.5" stroke-linejoin="round" /><polyline points="500.8,668.9 529.0,665.4 713.0,666.0 759.2,667.7" fill="none" stroke="#555" stroke-width="1.2" stroke-linejoin="round" /><polygon points="490.0,681.6 499.9,667.7 495.6,667.7 495.6,653.3 484.4,653.3 484.4,667.7 480.1,667.7" fill="#fff" stroke="#111" stroke-width="1.1" stroke-linejoin="miter"/><text x="490.0" y="670.8" font-family="Liberation Sans" font-weight="bold" font-size="10.5" text-anchor="middle" fill="#111">Г</text><polygon points="573.9,668.5 583.8,654.6 579.5,654.6 579.5,640.2 568.3,640.2 568.3,654.6 564.0,654.6" fill="#fff" stroke="#111" stroke-width="1.1" stroke-linejoin="miter"/><text x="573.9" y="657.7" font-family="Liberation Sans" font-weight="bold" font-size="10.5" text-anchor="middle" fill="#111">Г</text><polygon points="657.7,668.5 667.6,654.6 663.3,654.6 663.3,640.2 652.1,640.2 652.1,654.6 647.8,654.6" fill="#fff" stroke="#111" stroke-width="1.1" stroke-linejoin="miter"/><text x="657.7" y="657.7" font-family="Liberation Sans" font-weight="bold" font-size="10.5" text-anchor="middle" fill="#111">Г</text><polygon points="740.3,681.0 750.2,667.1 745.9,667.1 745.9,652.7 734.7,652.7 734.7,667.1 730.4,667.1" fill="#fff" stroke="#111" stroke-width="1.1" stroke-linejoin="miter"/><text x="740.3" y="670.2" font-family="Liberation Sans" font-weight="bold" font-size="10.5" text-anchor="middle" fill="#111">Г</text><polygon points="459.5,705.5 445.6,695.6 445.6,699.9 431.2,699.9 431.2,711.1 445.6,711.1 445.6,715.4" fill="#fff" stroke="#111" stroke-width="1.1" stroke-linejoin="miter"/><text x="445.1" y="709.1" font-family="Liberation Sans" font-weight="bold" font-size="10.5" text-anchor="middle" fill="#111">Г</text><polygon points="771.0,705.5 784.9,715.4 784.9,711.1 799.3,711.1 799.3,699.9 784.9,699.9 784.9,695.6" fill="#fff" stroke="#111" stroke-width="1.1" stroke-linejoin="miter"/><text x="785.4" y="709.1" font-family="Liberation Sans" font-weight="bold" font-size="10.5" text-anchor="middle" fill="#111">Г</text><polygon points="485.4,724.3 475.5,738.2 479.8,738.2 479.8,752.6 491.0,752.6 491.0,738.2 495.3,738.2" fill="#fff" stroke="#111" stroke-width="1.1" stroke-linejoin="miter"/><text x="485.4" y="742.3" font-family="Liberation Sans" font-weight="bold" font-size="10.5" text-anchor="middle" fill="#111">Г</text><polygon points="743.8,722.0 733.9,735.9 738.2,735.9 738.2,750.3 749.4,750.3 749.4,735.9 753.7,735.9" fill="#fff" stroke="#111" stroke-width="1.1" stroke-linejoin="miter"/><text x="743.8" y="740.0" font-family="Liberation Sans" font-weight="bold" font-size="10.5" text-anchor="middle" fill="#111">Г</text><polygon points="514.9,743.2 505.0,757.1 509.3,757.1 509.3,771.5 520.5,771.5 520.5,757.1 524.8,757.1" fill="#fff" stroke="#111" stroke-width="1.1" stroke-linejoin="miter"/><text x="514.9" y="761.2" font-family="Liberation Sans" font-weight="bold" font-size="10.5" text-anchor="middle" fill="#111">Г</text><polygon points="714.3,742.0 704.4,755.9 708.7,755.9 708.7,770.3 719.9,770.3 719.9,755.9 724.2,755.9" fill="#fff" stroke="#111" stroke-width="1.1" stroke-linejoin="miter"/><text x="714.3" y="760.0" font-family="Liberation Sans" font-weight="bold" font-size="10.5" text-anchor="middle" fill="#111">Г</text><polygon points="529.0,746.7 542.9,756.6 542.9,752.3 557.3,752.3 557.3,741.1 542.9,741.1 542.9,736.8" fill="#fff" stroke="#111" stroke-width="1.1" stroke-linejoin="miter"/><text x="543.4" y="750.3" font-family="Liberation Sans" font-weight="bold" font-size="10.5" text-anchor="middle" fill="#111">Г</text><polygon points="701.4,748.0 687.5,738.1 687.5,742.4 673.1,742.4 673.1,753.6 687.5,753.6 687.5,757.9" fill="#fff" stroke="#111" stroke-width="1.1" stroke-linejoin="miter"/><text x="687.0" y="751.6" font-family="Liberation Sans" font-weight="bold" font-size="10.5" text-anchor="middle" fill="#111">Г</text><polygon points="537.3,696.0 527.4,709.9 531.7,709.9 531.7,724.3 542.9,724.3 542.9,709.9 547.2,709.9" fill="#fff" stroke="#111" stroke-width="1.1" stroke-linejoin="miter"/><text x="537.3" y="714.0" font-family="Liberation Sans" font-weight="bold" font-size="10.5" text-anchor="middle" fill="#111">Д</text><polygon points="693.1,696.0 683.2,709.9 687.5,709.9 687.5,724.3 698.7,724.3 698.7,709.9 703.0,709.9" fill="#fff" stroke="#111" stroke-width="1.1" stroke-linejoin="miter"/><text x="693.1" y="714.0" font-family="Liberation Sans" font-weight="bold" font-size="10.5" text-anchor="middle" fill="#111">Д</text><polygon points="545.3,779.6 559.2,789.5 559.2,785.2 573.6,785.2 573.6,774.0 559.2,774.0 559.2,769.7" fill="#fff" stroke="#111" stroke-width="1.1" stroke-linejoin="miter"/><text x="559.7" y="783.2" font-family="Liberation Sans" font-weight="bold" font-size="10.5" text-anchor="middle" fill="#111">Г</text><polygon points="686.8,779.6 672.9,769.7 672.9,774.0 658.5,774.0 658.5,785.2 672.9,785.2 672.9,789.5" fill="#fff" stroke="#111" stroke-width="1.1" stroke-linejoin="miter"/><text x="672.4" y="783.2" font-family="Liberation Sans" font-weight="bold" font-size="10.5" text-anchor="middle" fill="#111">Г</text></svg>
<div class="r" style="left:40px;top:106px;width:768px;height:46px;background:#e8e8e8"></div>
<div class="r" style="left:40px;top:104px;width:768px;height:2.2px;background:#1a1a1a"></div>
<div class="dv" style="left:167px;top:106px;height:81px;"></div>
<div class="dv" style="left:295px;top:106px;height:81px;"></div>
<div class="dv" style="left:423px;top:106px;height:81px;"></div>
<div class="dv" style="left:551px;top:106px;height:81px;"></div>
<div class="dv" style="left:679px;top:106px;height:81px;"></div>
<div class="r" style="left:40px;top:603px;width:768px;height:1.6px;background:#3a3a3a"></div>
<div class="r" style="left:40px;top:965.3px;width:423px;height:1.8px;background:#3e3e3e"></div>
<div class="r" style="left:490px;top:965.3px;width:318px;height:1.8px;background:#3e3e3e"></div>
<div class="r" style="left:490px;top:967.1px;width:318px;height:22.6px;background:#e9e9e9"></div>
<div class="dv" style="left:631.5px;top:944px;height:159px;"></div>
<div class="dv" style="left:693px;top:944px;height:159px;"></div>
<div class="r" style="left:40px;top:1118px;width:768px;height:2px;background:#1a1a1a"></div>

<div class="t" style="top:40.13px;left:40px;font-size:15.8px;">ИНСТРУКЦИЯ ПО УСТАНОВКЕ</div>
<div class="t" style="top:60.36px;left:40px;font-size:16px;font-weight:700;letter-spacing:0.95px;">ЗАЩИТА РАДИАТОРА И КАРТЕРА</div>
<div class="t" style="top:60.36px;left:353.5px;font-size:16px;font-weight:700;letter-spacing:1.6px;">333.5870.1</div>
<div class="t" style="top:121.30px;left:-196.0px;width:600px;text-align:center;font-size:15px;transform:scaleX(0.9);transform-origin:center top;">МАРКА</div>
<div class="t" style="top:121.30px;left:-68.0px;width:600px;text-align:center;font-size:15px;transform:scaleX(0.9);transform-origin:center top;">МОДЕЛЬ</div>
<div class="t" style="top:112.30px;left:60.0px;width:600px;text-align:center;font-size:15px;transform:scaleX(0.9);transform-origin:center top;">ГОД</div>
<div class="t" style="top:127.80px;left:60.0px;width:600px;text-align:center;font-size:15px;transform:scaleX(0.9);transform-origin:center top;">ВЫПУСКА</div>
<div class="t" style="top:112.30px;left:188.0px;width:600px;text-align:center;font-size:15px;transform:scaleX(0.9);transform-origin:center top;">ОБЪЕМ</div>
<div class="t" style="top:127.80px;left:188.0px;width:600px;text-align:center;font-size:15px;transform:scaleX(0.9);transform-origin:center top;">ДВИГАТЕЛЯ</div>
<div class="t" style="top:121.30px;left:316.0px;width:600px;text-align:center;font-size:15px;transform:scaleX(0.9);transform-origin:center top;">ТИП КПП</div>
<div class="t" style="top:112.30px;left:444.0px;width:600px;text-align:center;font-size:15px;transform:scaleX(0.9);transform-origin:center top;">ТИП</div>
<div class="t" style="top:127.80px;left:444.0px;width:600px;text-align:center;font-size:15px;transform:scaleX(0.9);transform-origin:center top;">ПРИВОДА</div>
<div class="t" style="top:164.30px;left:-196.0px;width:600px;text-align:center;font-size:15px;transform:scaleX(0.94);transform-origin:center top;">Volkswagen</div>
<div class="t" style="top:164.30px;left:-68.0px;width:600px;text-align:center;font-size:15px;transform:scaleX(0.94);transform-origin:center top;">Touareg</div>
<div class="t" style="top:164.30px;left:60.0px;width:600px;text-align:center;font-size:15px;transform:scaleX(0.94);transform-origin:center top;">2018-</div>
<div class="t" style="top:164.30px;left:316.0px;width:600px;text-align:center;font-size:15px;transform:scaleX(0.94);transform-origin:center top;">АКПП</div>
<div class="t" style="top:164.30px;left:444.0px;width:600px;text-align:center;font-size:15px;transform:scaleX(0.94);transform-origin:center top;">ПОЛНЫЙ</div>
<div class="t" style="top:157.29px;left:188.0px;width:600px;text-align:center;font-size:11px;letter-spacing:0.12px;">2.0TSI (249 л.с.)</div>
<div class="t" style="top:169.19px;left:188.0px;width:600px;text-align:center;font-size:11px;letter-spacing:0.12px;">3.0TSI (340 л.с.)</div>
<div class="t" style="top:181.09px;left:188.0px;width:600px;text-align:center;font-size:11px;letter-spacing:0.12px;">3.0TDI (249 л.с.)</div>
<div class="t" style="top:230.15px;left:100.6px;font-size:14px;color:#222;">Штатный крепеж</div>
<div class="t" style="top:238.95px;left:303px;font-size:14px;color:#222;">Ухо</div>
<div class="t" style="top:238.95px;left:351.8px;font-size:14px;color:#222;">Кронштейн</div>
<div class="t" style="top:236.45px;left:464.2px;font-size:14px;color:#222;">Штатный крепеж</div>
<div class="t" style="top:290.35px;left:477.4px;font-size:14px;color:#222;">Защита</div>
<div class="t" style="top:284.45px;left:602.7px;font-size:14px;color:#222;">Кронштейн</div>
<div class="t" style="top:320.15px;left:687.2px;font-size:14px;color:#222;">Ухо</div>
<div class="t" style="top:334.75px;left:729.6px;font-size:14px;color:#222;">Гайка 6</div>
<div class="t" style="top:350.75px;left:729.6px;font-size:14px;color:#222;">Шайба 6 гр.</div>
<div class="t" style="top:365.95px;left:729.6px;font-size:14px;color:#222;">Шайба 6</div>
<div class="t" style="top:391.15px;right:55.60000000000002px;font-size:14px;color:#222;">Штатный</div>
<div class="t" style="top:405.75px;right:55.60000000000002px;font-size:14px;color:#222;">крепеж</div>
<div class="t" style="top:339.25px;right:705.1px;font-size:14px;color:#222;">Гайка 6</div>
<div class="t" style="top:354.85px;right:705.1px;font-size:14px;color:#222;">Шайба 6 гр.</div>
<div class="t" style="top:370.45px;right:705.1px;font-size:14px;color:#222;">Шайба 6</div>
<div class="t" style="top:451.15px;right:689px;font-size:14px;color:#222;">Штатный</div>
<div class="t" style="top:466.65px;right:689px;font-size:14px;color:#222;">крепеж</div>
<div class="t" style="top:522.25px;left:294.5px;font-size:14px;color:#222;">Балка</div>
<div class="t" style="top:551.95px;right:585.3px;font-size:14px;color:#222;">Болт М8х25</div>
<div class="t" style="top:567.15px;right:585.3px;font-size:14px;color:#222;">Шайба 8</div>
<div class="t" style="top:543.15px;right:405px;font-size:14px;color:#222;">Штатный</div>
<div class="t" style="top:556.55px;right:405px;font-size:14px;color:#222;">крепеж</div>
<div class="t" style="top:532.35px;left:446.8px;font-size:14px;color:#222;">Заглушка</div>
<div class="t" style="top:512.15px;right:283.70000000000005px;font-size:14px;color:#222;">Штатный</div>
<div class="t" style="top:526.35px;right:283.70000000000005px;font-size:14px;color:#222;">крепеж</div>
<div class="t" style="top:508.25px;left:579.2px;font-size:14px;color:#222;">Болт М6х16</div>
<div class="t" style="top:504.25px;right:100.39999999999998px;font-size:14px;color:#222;">Болт М8х25</div>
<div class="t" style="top:520.25px;right:100.39999999999998px;font-size:14px;color:#222;">Шайба 8</div>
<div class="t" style="top:945.95px;left:40.9px;font-size:14px;font-weight:700;letter-spacing:0.05px;">Инструкция по установке:</div>
<div class="t" style="top:974.73px;left:40.9px;font-size:10.6px;letter-spacing:0.4px;">1. Закрепить уши к защите, используя болты М6х16, гайки 6 и шайбы 6.</div>
<div class="t" style="top:987.37px;left:40.9px;font-size:10.6px;letter-spacing:0.4px;">2. Снять штатный пыльник.</div>
<div class="t" style="top:1000.01px;left:40.9px;font-size:10.6px;letter-spacing:0.4px;">3. Закрепить балку штатным крепежом (А).</div>
<div class="t" style="top:1012.65px;left:40.9px;font-size:10.6px;letter-spacing:0.4px;">4. Закрепить кронштейны штатным крепежом (Б)</div>
<div class="t" style="top:1025.29px;left:40.9px;font-size:10.6px;letter-spacing:0.4px;">5. Вкрутить болты М8х25 на 2-3 оборота в отверстия балки (В).</div>
<div class="t" style="top:1037.93px;left:40.9px;font-size:10.6px;letter-spacing:0.4px;">6. Установить защиту: заднюю часть завести на установленные болты М8х25</div>
<div class="t" style="top:1050.57px;left:40.9px;font-size:10.6px;letter-spacing:0.4px;">(В), переднюю часть закрепить к кронштейнам болтами М8х25 (Д). Боковые</div>
<div class="t" style="top:1063.21px;left:40.9px;font-size:10.6px;letter-spacing:0.4px;">части закрепить в отверстия (Г) штатным крепежом.</div>
<div class="t" style="top:1075.85px;left:40.9px;font-size:10.6px;letter-spacing:0.4px;">7. Затянуть болты с необходимым усилием.</div>
<div class="t" style="top:945.95px;left:496.9px;font-size:14px;font-weight:700;letter-spacing:0.05px;">Состав изделия:</div>
<div class="t" style="top:971.67px;left:518.4px;font-size:13.5px;letter-spacing:0.3px;">Наименование</div>
<div class="t" style="top:971.67px;left:641px;font-size:13.5px;letter-spacing:0.3px;">Кол-во</div>
<div class="t" style="top:971.67px;left:700.7px;font-size:13.5px;letter-spacing:0.3px;">Момент затяжки</div>
<div class="t" style="top:990.08px;right:218px;font-size:10.3px;letter-spacing:0.5px;">Болт М6X16</div>
<div class="t" style="top:990.08px;left:646px;font-size:10.3px;letter-spacing:0.5px;">6 шт.</div>
<div class="t" style="top:1001.83px;right:218px;font-size:10.3px;letter-spacing:0.5px;">Болт М8х25</div>
<div class="t" style="top:1001.83px;left:646px;font-size:10.3px;letter-spacing:0.5px;">4 шт.</div>
<div class="t" style="top:1013.58px;right:218px;font-size:10.3px;letter-spacing:0.5px;">Шайба 6</div>
<div class="t" style="top:1013.58px;left:646px;font-size:10.3px;letter-spacing:0.5px;">6 шт.</div>
<div class="t" style="top:1025.33px;right:218px;font-size:10.3px;letter-spacing:0.5px;">Шайба 6 гр.</div>
<div class="t" style="top:1025.33px;left:646px;font-size:10.3px;letter-spacing:0.5px;">6 шт.</div>
<div class="t" style="top:1037.08px;right:218px;font-size:10.3px;letter-spacing:0.5px;">Шайба 8</div>
<div class="t" style="top:1037.08px;left:646px;font-size:10.3px;letter-spacing:0.5px;">4 шт.</div>
<div class="t" style="top:1048.83px;right:218px;font-size:10.3px;letter-spacing:0.5px;">Гайка 6</div>
<div class="t" style="top:1048.83px;left:646px;font-size:10.3px;letter-spacing:0.5px;">6 шт.</div>
<div class="t" style="top:1060.58px;right:218px;font-size:10.3px;letter-spacing:0.5px;">Защита</div>
<div class="t" style="top:1060.58px;left:646px;font-size:10.3px;letter-spacing:0.5px;">1 шт.</div>
<div class="t" style="top:1072.33px;right:218px;font-size:10.3px;letter-spacing:0.5px;">Заглушка</div>
<div class="t" style="top:1072.33px;left:646px;font-size:10.3px;letter-spacing:0.5px;">2 шт.</div>
<div class="t" style="top:1084.08px;right:218px;font-size:10.3px;letter-spacing:0.5px;">Кронштейн</div>
<div class="t" style="top:1084.08px;left:646px;font-size:10.3px;letter-spacing:0.5px;">2 шт.</div>
<div class="t" style="top:1095.83px;right:218px;font-size:10.3px;letter-spacing:0.5px;">Балка</div>
<div class="t" style="top:1095.83px;left:646px;font-size:10.3px;letter-spacing:0.5px;">1 шт.</div>
<div class="t" style="top:1107.58px;right:218px;font-size:10.3px;letter-spacing:0.5px;">Ухо</div>
<div class="t" style="top:1107.58px;left:646px;font-size:10.3px;letter-spacing:0.5px;">2 шт.</div>
<div class="t" style="top:990.08px;left:705.5px;font-size:10.3px;letter-spacing:0.5px;">9.80 Нм</div>
<div class="t" style="top:1001.83px;left:705.5px;font-size:10.3px;letter-spacing:0.5px;">24.0 Нм</div>
<div class="t" style="top:1130.95px;left:40.6px;font-size:14px;letter-spacing:0.11px;">Производитель вправе вносить изменения в конструкцию защиты.</div>
<div class="t" style="top:1148.35px;left:40.6px;font-size:14px;letter-spacing:0.11px;">Техническая поддержка: <b style="letter-spacing:0.45px">supp@rivalauto.com</b></div>

</body></html>
